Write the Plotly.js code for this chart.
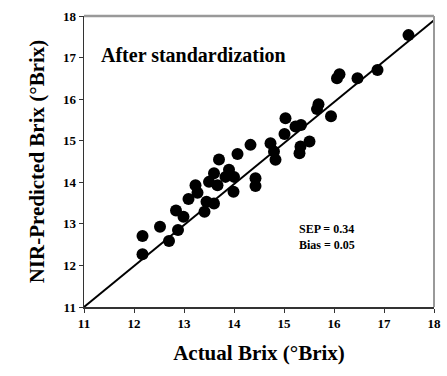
<!DOCTYPE html>
<html>
<head>
<meta charset="utf-8">
<script src="https://cdn.plot.ly/plotly-3.0.1.min.js"></script>
<style>html,body{margin:0;padding:0;background:#fff;}#chart{width:447px;height:376px;}</style>
</head>
<body>
<div id="chart"></div>
<script>
// Actual Brix (x) vs NIR-predicted Brix (y)
const actualBrix = [12.17, 12.17, 12.52, 12.70, 12.88, 12.84, 12.99, 13.09, 13.23, 13.27,
  13.41, 13.45, 13.50, 13.60, 13.67, 13.60, 13.70, 13.83, 13.90, 14.00,
  13.99, 14.07, 14.33, 14.43, 14.43, 14.73, 14.80, 14.83, 15.01, 15.03,
  15.23, 15.34, 15.33, 15.31, 15.51, 15.69, 15.66, 15.94, 16.06, 16.11,
  16.47, 16.87, 17.49];
const predictedBrix = [12.71, 12.27, 12.93, 12.59, 12.85, 13.32, 13.17, 13.60, 13.93, 13.75,
  13.29, 13.53, 14.01, 14.22, 13.93, 13.49, 14.55, 14.13, 14.30, 14.13,
  13.77, 14.68, 14.90, 14.10, 13.91, 14.94, 14.74, 14.54, 15.16, 15.54,
  15.34, 15.38, 14.86, 14.70, 14.98, 15.88, 15.76, 15.59, 16.50, 16.60,
  16.50, 16.70, 17.54];
const fitX = [11, 18];
const fitY = [11, 17.9];
const tickVals = [11, 12, 13, 14, 15, 16, 17, 18];
const tickText = ['11', '12', '13', '14', '15', '16', '17', '18'];

const serif = '"Liberation Serif", "Times New Roman", serif';

const traces = [
  {x: actualBrix, y: predictedBrix, type: 'scatter', mode: 'markers',
   marker: {color: '#000', size: 12, line: {width: 0}}, showlegend: false, cliponaxis: false},
  {x: fitX, y: fitY, type: 'scatter', mode: 'lines',
   line: {color: '#000', width: 2}, showlegend: false}
];

const layout = {
  width: 447, height: 376,
  margin: {l: 84, r: 13, t: 16, b: 69},
  paper_bgcolor: '#fff', plot_bgcolor: '#fff',
  font: {family: serif, color: '#000'},
  xaxis: {
    range: [11, 18], tickvals: tickVals, ticktext: tickText,
    ticks: 'outside', ticklen: 4, tickcolor: '#333', tickwidth: 1,
    showgrid: false, zeroline: false, showline: true, linecolor: '#333', linewidth: 1.5,
    tickfont: {family: serif, size: 13, color: '#000', weight: 'bold'},
    title: {text: '<b>Actual Brix (°Brix)</b>', font: {family: serif, size: 21, color: '#000'}, standoff: 15}
  },
  yaxis: {
    range: [11, 18], tickvals: tickVals, ticktext: tickText,
    ticks: 'outside', ticklen: 4, tickcolor: '#333', tickwidth: 1,
    showgrid: false, zeroline: false, showline: true, linecolor: '#333', linewidth: 1.5,
    tickfont: {family: serif, size: 13, color: '#000', weight: 'bold'},
    title: {text: '<b>NIR-Predicted Brix (°Brix)</b>', font: {family: serif, size: 21, color: '#000'}, standoff: 12}
  },
  shapes: [
    {type: 'line', xref: 'paper', yref: 'paper', x0: 0, x1: 1, y0: 1, y1: 1, line: {color: '#999', width: 2.5}},
    {type: 'line', xref: 'paper', yref: 'paper', x0: 1, x1: 1, y0: 0, y1: 1, line: {color: '#999', width: 2}}
  ],
  annotations: [
    {x: 11.3, y: 17.06, xref: 'x', yref: 'y', xanchor: 'left', yanchor: 'middle', showarrow: false,
     text: '<b>After standardization</b>', font: {family: serif, size: 20, color: '#000'}},
    {x: 15.25, y: 12.88, xref: 'x', yref: 'y', xanchor: 'left', yanchor: 'middle', showarrow: false,
     text: '<b>SEP = 0.34</b>', font: {family: serif, size: 12, color: '#000'}},
    {x: 15.25, y: 12.49, xref: 'x', yref: 'y', xanchor: 'left', yanchor: 'middle', showarrow: false,
     text: '<b>Bias = 0.05</b>', font: {family: serif, size: 12, color: '#000'}}
  ]
};

Plotly.newPlot('chart', traces, layout, {displayModeBar: false, staticPlot: true});
</script>
</body>
</html>
